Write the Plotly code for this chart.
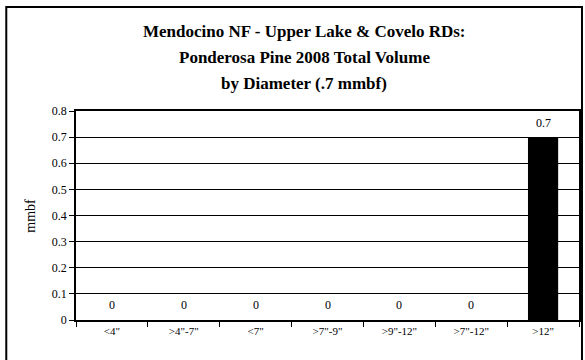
import plotly.graph_objects as go

categories = ['<4"', '>4"-7"', '<7"', '>7"-9"', '>9"-12"', '>7"-12"', '>12"']
volume_mmbf = [0, 0, 0, 0, 0, 0, 0.7]
value_labels = ["0", "0", "0", "0", "0", "0", "0.7"]
y_ticks = [0, 0.1, 0.2, 0.3, 0.4, 0.5, 0.6, 0.7, 0.8]
title_lines = [
    "Mendocino NF - Upper Lake & Covelo RDs:",
    "Ponderosa Pine 2008 Total Volume",
    "by Diameter (.7 mmbf)",
]

FONT = "'Liberation Serif', 'DejaVu Serif', serif"
W, H = 585, 360
L, R, T, B = 76, 4, 111, 40
pw, ph = W - L - R, H - T - B

fig = go.Figure()
fig.add_trace(go.Bar(
    x=categories, y=volume_mmbf,
    marker=dict(color="black", line=dict(width=0)),
    width=0.42,
    cliponaxis=False,
))

def px2paper_x(x):
    return (x - L) / pw

def px2paper_y(y):
    return (H - B - y) / ph

annotations = []
for cat, val, lab in zip(categories, volume_mmbf, value_labels):
    annotations.append(dict(
        text=lab, x=cat, y=val, xref="x", yref="y",
        xanchor="center", yanchor="bottom", yshift=5 if val > 0 else 6,
        showarrow=False, font=dict(family=FONT, size=12, color="black"),
    ))
for line, yc in zip(title_lines, [31, 57, 83]):
    annotations.append(dict(
        text="<b>" + line + "</b>", xref="paper", yref="paper",
        x=px2paper_x(305), y=px2paper_y(yc), xanchor="center", yanchor="middle",
        showarrow=False, font=dict(family=FONT, size=17, color="black"),
    ))
annotations.append(dict(
    text="mmbf", xref="paper", yref="paper",
    x=px2paper_x(30), y=0.5, xanchor="center", yanchor="middle", textangle=-90,
    showarrow=False, font=dict(family=FONT, size=14, color="black"),
))

fig.update_layout(
    width=W, height=H,
    margin=dict(l=L, r=R, t=T, b=B, pad=0),
    paper_bgcolor="white", plot_bgcolor="white",
    showlegend=False,
    font=dict(family=FONT, color="black"),
    annotations=annotations,
    shapes=[dict(
        type="rect", xref="paper", yref="paper",
        x0=px2paper_x(6), x1=px2paper_x(584), y0=px2paper_y(364), y1=px2paper_y(7),
        line=dict(color="black", width=2), fillcolor="rgba(0,0,0,0)", layer="above",
    )],
)
fig.update_xaxes(
    type="category", showline=True, linecolor="black", linewidth=1.5, mirror=True,
    ticks="outside", tickson="boundaries", ticklen=5, tickcolor="black",
    tickfont=dict(family=FONT, size=11, color="black"), showgrid=False,
)
fig.update_yaxes(
    range=[0, 0.8], tickvals=y_ticks, ticktext=[("%g" % v) for v in y_ticks],
    showline=True, linecolor="black", linewidth=1.5, mirror=True,
    ticks="outside", ticklen=5, tickcolor="black",
    tickfont=dict(family=FONT, size=12, color="black"),
    showgrid=True, gridcolor="black", gridwidth=1, zeroline=False,
)

fig.write_html(
    "out.html",
    config={"displayModeBar": False},
    post_script="document.body.style.margin='0';document.body.style.overflow='hidden';",
)
